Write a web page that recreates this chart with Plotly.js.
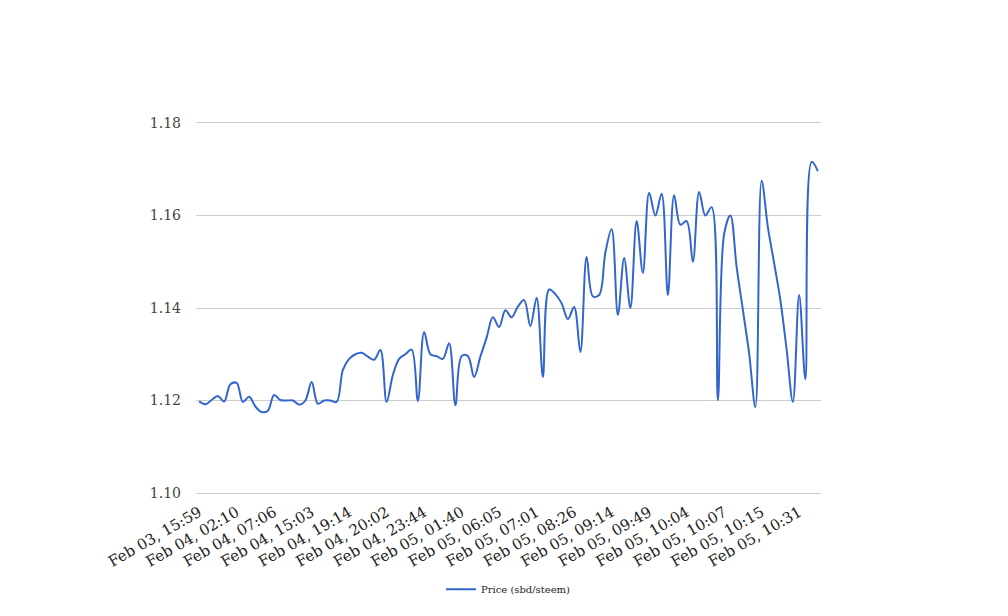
<!DOCTYPE html>
<html>
<head>
<meta charset="utf-8">
<script src="https://cdn.plot.ly/plotly-3.0.1.min.js"></script>
<style>html,body{margin:0;padding:0;background:#fff;}#chart{width:1008px;height:616px;}</style>
</head>
<body>
<div id="chart"></div>
<script>
// Price (sbd/steem), one value per sample, in order
const prices = [
  1.1198, 1.1192, 1.1201, 1.1210, 1.1198, 1.1235, 1.1238, 1.1197, 1.1208, 1.1187,
  1.1175, 1.1178, 1.1212, 1.1201, 1.1200, 1.1200, 1.1191, 1.1200, 1.1240, 1.1193,
  1.1200, 1.1200, 1.1197, 1.1266, 1.1290, 1.1300, 1.1303, 1.1295, 1.1288, 1.1309,
  1.1197, 1.1255, 1.1290, 1.1300, 1.1310, 1.1199, 1.1348, 1.1300, 1.1296, 1.1290,
  1.1324, 1.1190, 1.1296, 1.1296, 1.1251, 1.1295, 1.1336, 1.1380, 1.1359, 1.1395,
  1.1380, 1.1403, 1.1417, 1.1361, 1.1422, 1.1251, 1.1440, 1.1430, 1.1410, 1.1376,
  1.1402, 1.1305, 1.1510, 1.1425, 1.1428, 1.1520, 1.1570, 1.1385, 1.1508, 1.1400,
  1.1588, 1.1476, 1.1649, 1.1600, 1.1647, 1.1428, 1.1644, 1.1580, 1.1588, 1.1500,
  1.1651, 1.1600, 1.1618, 1.1201, 1.1560, 1.1600, 1.1489, 1.1396, 1.1302, 1.1186,
  1.1675, 1.1575, 1.1497, 1.1417, 1.1310, 1.1197, 1.1428, 1.1246, 1.1716, 1.1696
];
// sample index of each labelled tick, and its label
const tickIndex = [0, 6, 12, 18, 24, 30, 36, 42, 48, 54, 60, 66, 72, 78, 84, 90, 96];
const tickLabels = [
  "Feb 03, 15:59", "Feb 04, 02:10", "Feb 04, 07:06", "Feb 04, 15:03", "Feb 04, 19:14",
  "Feb 04, 20:02", "Feb 04, 23:44", "Feb 05, 01:40", "Feb 05, 06:05", "Feb 05, 07:01",
  "Feb 05, 08:26", "Feb 05, 09:14", "Feb 05, 09:49", "Feb 05, 10:04", "Feb 05, 10:07",
  "Feb 05, 10:15", "Feb 05, 10:31"
];
const yTicks = [1.10, 1.12, 1.14, 1.16, 1.18];

const idx = prices.map((_, i) => i);
const font = "DejaVu Serif, serif";

Plotly.newPlot("chart", [{
  x: idx,
  y: prices,
  type: "scatter",
  mode: "lines",
  name: "Price (sbd/steem)",
  line: {color: "#3366cc", width: 2, shape: "spline", smoothing: 1}
}], {
  width: 1008, height: 616,
  margin: {l: 196, r: 187, t: 123, b: 123},
  paper_bgcolor: "#fff", plot_bgcolor: "#fff",
  font: {family: font, color: "#444", size: 14},
  xaxis: {
    range: [-0.5, prices.length - 0.5],
    tickvals: tickIndex, ticktext: tickLabels,
    tickangle: -30, showgrid: false, zeroline: false,
    showline: true, mirror: true, linecolor: "#cccccc", linewidth: 1,
    ticks: "", ticklabelstandoff: 4,
    tickfont: {family: font, size: 15, color: "#222"}
  },
  yaxis: {
    range: [1.10, 1.18], tickvals: yTicks, tickformat: ".2f",
    showgrid: true, gridcolor: "#cccccc", gridwidth: 1, zeroline: false, showline: false,
    ticks: "", ticklabelstandoff: 14,
    tickfont: {family: font, size: 14, color: "#444"}
  },
  showlegend: true,
  legend: {orientation: "h", x: 0.5, xanchor: "center", y: -0.26, yanchor: "middle",
           font: {family: font, size: 10, color: "#222"}}
}, {displayModeBar: false, staticPlot: true});
</script>
</body>
</html>
